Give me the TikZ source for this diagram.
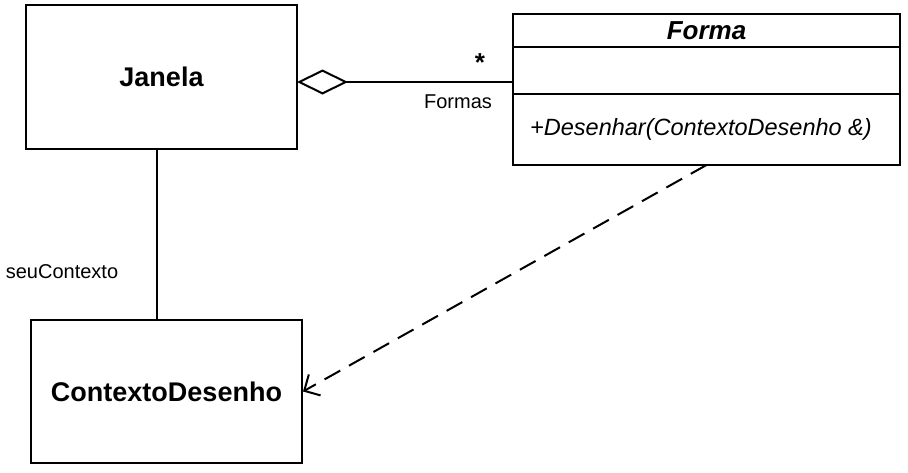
\documentclass[tikz,border=0pt]{standalone}
\usepackage{fontspec}
\setmainfont{Liberation Sans}
\usetikzlibrary{arrows.meta}

\tikzset{
	classbox/.style={draw, line width=2pt, inner sep=0pt, font=\fontsize{27}{32}\selectfont\bfseries},
	formapart/.style={draw, line width=2pt, inner sep=0pt, outer sep=0pt, minimum width=387pt, anchor=north},
	rolelabel/.style={inner sep=0pt, font=\fontsize{20}{24}\selectfont},
	link/.style={line width=2pt},
	dependency/.style={line width=2pt, dash pattern=on 18pt off 10pt, -{Straight Barb[length=12pt,width=24pt,line width=2pt]}},
}

\begin{document}
\begin{tikzpicture}[x=1pt, y=-1pt]
	\useasboundingbox (0,0) rectangle (908,472);

	% classes
	\node[classbox, minimum width=271pt, minimum height=144pt] (janela) at (161.5,77) {Janela};
	\node[classbox, minimum width=271pt, minimum height=143pt] (contexto) at (166.5,391.5) {ContextoDesenho};

	\node[formapart, minimum height=33pt, font=\fontsize{26}{30}\selectfont\bfseries\itshape] (forma) at (706.5,14) {Forma};
	\node[formapart, minimum height=47pt] (atributos) at (forma.south) {};
	\node[formapart, minimum height=71pt] (metodos) at (atributos.south) {};
	\node[anchor=west, inner sep=0pt, font=\fontsize{23.5}{28}\selectfont\itshape] (desenhar) at ([xshift=17pt]metodos.west) {+Desenhar(ContextoDesenho \&)};

	% connectors
	\coordinate (agg) at (297,82);
	\draw[link, {Diamond[open,length=51pt,width=25pt,line width=2pt]}-] (agg) -- (agg -| forma.west);
	\draw[link] ([xshift=-4.5pt]janela.south) -- ([xshift=-9.5pt]contexto.north);
	\draw[dependency] (metodos.south) -- (contexto.east);

	% role names
	\node[anchor=base, inner sep=0pt, font=\fontsize{26}{30}\selectfont\bfseries] (mult) at (480,71) {*};
	\node[rolelabel] (formas) at (458,102) {Formas};
	\node[rolelabel] (seucontexto) at (62,272) {seuContexto};
\end{tikzpicture}
\end{document}
